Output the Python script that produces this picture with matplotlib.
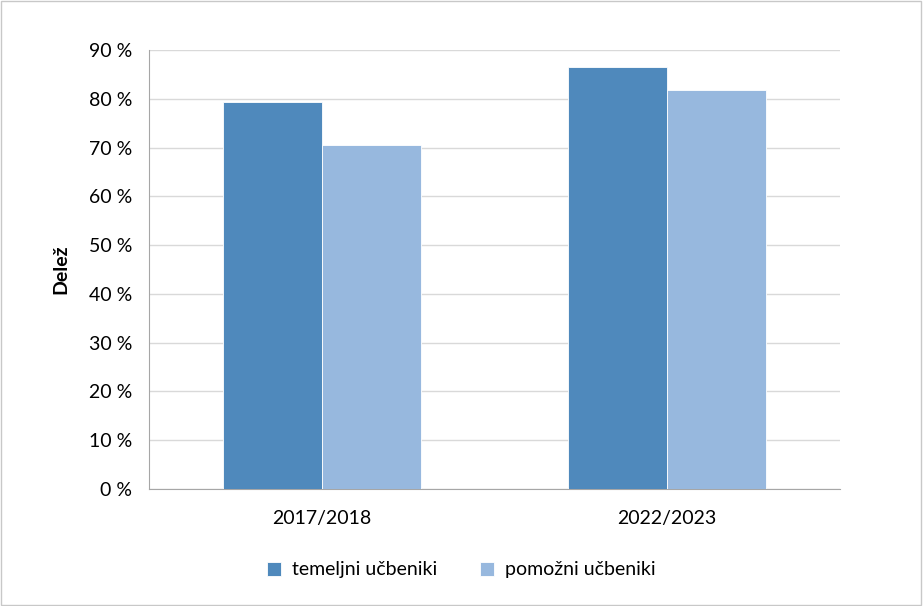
import numpy as np
import matplotlib.pyplot as plt
from matplotlib.patches import Rectangle

categories = ["2017/2018", "2022/2023"]
temeljni = [79.4, 86.6]
pomozni = [70.6, 81.9]
series_names = ["temeljni učbeniki", "pomožni učbeniki"]
yticks = list(range(0, 100, 10))

plt.rcParams['font.family'] = ['Lato', 'DejaVu Sans']
fs = 14

fig = plt.figure(figsize=(9.23, 6.06), dpi=100)
fig.patches.append(Rectangle((0.001, 0.001), 0.997, 0.997, transform=fig.transFigure,
                             fill=False, edgecolor="#c8c8c8", linewidth=1))
ax = fig.add_axes([149 / 923, 1 - 489 / 606, 691 / 923, 439 / 606])

x = np.arange(len(categories))
w = 0.286
ax.bar(x - w / 2, temeljni, w, color="#4f89bc", edgecolor="#ffffff", linewidth=0.6,
       label=series_names[0], zorder=3)
ax.bar(x + w / 2, pomozni, w, color="#97b8de", edgecolor="#ffffff", linewidth=0.6,
       label=series_names[1], zorder=3)

ax.set_xlim(-0.5, 1.5)
ax.set_ylim(0, 90)
ax.set_yticks(yticks)
ax.set_yticklabels([f"{t} %" for t in yticks], fontsize=fs)
ax.set_xticks(x)
ax.set_xticklabels(categories, fontsize=fs)
ax.tick_params(axis="y", length=0, pad=12)
ax.tick_params(axis="x", length=0, pad=15)
ax.grid(axis="y", color="#d9d9d9", linewidth=1, zorder=0)
for s in ["top", "right"]:
    ax.spines[s].set_visible(False)
ax.spines["left"].set_color("#a6a6a6")
ax.spines["bottom"].set_color("#a6a6a6")
ax.set_ylabel("Delež", fontsize=fs, fontweight="bold", labelpad=14)

fig.legend(loc="center", bbox_to_anchor=(0.5, 1 - 570 / 606), ncol=2, frameon=False,
           fontsize=fs, handlelength=0.7, handleheight=0.7, columnspacing=2.2,
           handletextpad=0.6)

fig.savefig("out.png", dpi=100)
